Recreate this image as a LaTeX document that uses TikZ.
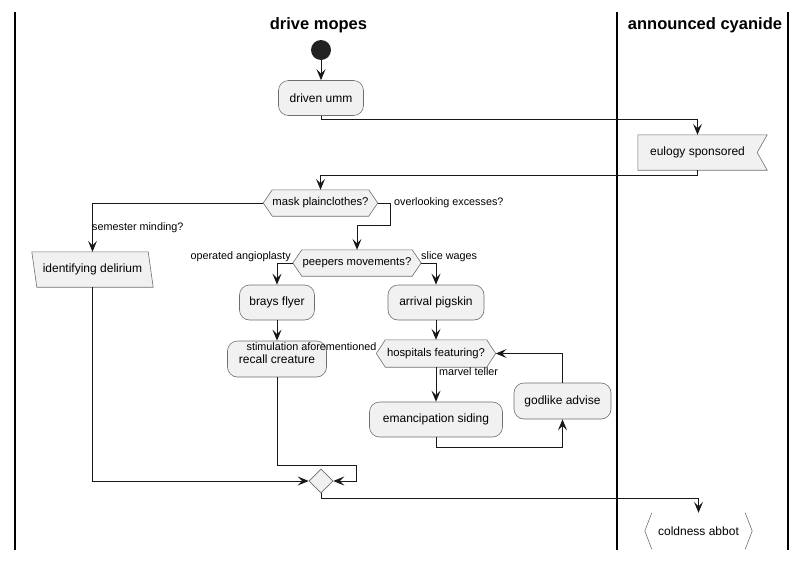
\documentclass[tikz,border=0pt]{standalone}
\usepackage{fontspec}
\setmainfont{Liberation Sans}
\usetikzlibrary{arrows.meta,shapes.geometric,calc}
\pgfdeclarelayer{bg}
\pgfsetlayers{bg,main}
\definecolor{boxfill}{HTML}{F1F1F1}
\definecolor{boxline}{HTML}{6E6E6E}
\definecolor{linec}{HTML}{181818}
\definecolor{startc}{HTML}{222222}
\tikzset{
  act/.style={draw=boxline, line width=0.6pt, fill=boxfill, rounded corners=10pt,
    minimum height=35pt, inner sep=0pt, font=\fontsize{12}{14}\selectfont},
  plainbody/.style={inner sep=0pt, minimum height=35pt, font=\fontsize{12}{14}\selectfont},
  hexbody/.style={inner sep=0pt, minimum height=26pt, font=\fontsize{11.3}{13}\selectfont},
  shapeline/.style={draw=boxline, line width=0.6pt, fill=boxfill},
  flow/.style={draw=linec, line width=1pt, -{Stealth[length=11pt,width=9pt,inset=4.5pt]}},
  lbl/.style={font=\fontsize{10.8}{12}\selectfont, inner sep=0pt},
  lane/.style={line width=1.5pt, draw=black},
  lanetitle/.style={font=\bfseries\fontsize{16.5}{19}\selectfont, inner sep=0pt}
}
\begin{document}
\begin{tikzpicture}[x=1pt,y=-1pt]
\useasboundingbox (0,0) rectangle (806,560);
% lanes
\draw[lane] (15,12) -- (15,550);
\draw[lane] (617,12) -- (617,550);
\draw[lane] (788,12) -- (788,550);
\node[lanetitle] (t1) at (318.5,25) {drive mopes};
\node[lanetitle] (t2) at (705,25) {announced cyanide};

% nodes
\node[circle, fill=startc, minimum size=20pt, inner sep=0pt] (start) at (321,50) {};
\node[act, minimum width=85pt] (driven) at (321,98) {driven umm};

\node[plainbody, minimum width=119pt] (eul) at (697.5,152.5) {eulogy sponsored};
\begin{pgfonlayer}{bg}
\draw[shapeline] (eul.north west) -- ([xshift=10pt]eul.north east) -- (eul.east)
  -- ([xshift=10pt]eul.south east) -- (eul.south west) -- cycle;
\end{pgfonlayer}

\node[hexbody, minimum width=95pt] (mask) at (320.5,203) {mask plainclothes?};
\coordinate (maskL) at ([xshift=-9pt]mask.west);
\coordinate (maskR) at ([xshift=9pt]mask.east);
\begin{pgfonlayer}{bg}
\draw[shapeline] (maskL) -- (mask.north west) -- (mask.north east) -- (maskR)
  -- (mask.south east) -- (mask.south west) -- cycle;
\end{pgfonlayer}

\node[plainbody, minimum width=116pt] (idel) at (92.5,269.5) {identifying delirium};
\begin{pgfonlayer}{bg}
\draw[shapeline] ([xshift=-2.5pt]idel.north west) -- ([xshift=-2.5pt]idel.north east)
  -- ([xshift=2.5pt]idel.south east) -- ([xshift=2.5pt]idel.south west) -- cycle;
\end{pgfonlayer}

\node[hexbody, minimum width=110pt] (peep) at (357,263) {peepers movements?};
\coordinate (peepL) at ([xshift=-9pt]peep.west);
\coordinate (peepR) at ([xshift=9pt]peep.east);
\begin{pgfonlayer}{bg}
\draw[shapeline] (peepL) -- (peep.north west) -- (peep.north east) -- (peepR)
  -- (peep.south east) -- (peep.south west) -- cycle;
\end{pgfonlayer}

\node[act, minimum width=75pt] (brays) at (277,302.5) {brays flyer};
\node[act, minimum width=96pt] (arr) at (436,302.5) {arrival pigskin};
\node[act, minimum width=99pt, minimum height=36pt] (recall) at (277,359) {recall creature};

\node[hexbody, minimum width=101pt, minimum height=27pt] (hosp) at (436,353.5) {hospitals featuring?};
\coordinate (hospL) at ([xshift=-9pt]hosp.west);
\coordinate (hospR) at ([xshift=9pt]hosp.east);
\begin{pgfonlayer}{bg}
\draw[shapeline] (hospL) -- (hosp.north west) -- (hosp.north east) -- (hospR)
  -- (hosp.south east) -- (hosp.south west) -- cycle;
\end{pgfonlayer}

\node[act, minimum width=133pt] (eman) at (436,419.5) {emancipation siding};
\node[act, minimum width=97pt, minimum height=36pt] (god) at (562.5,401) {godlike advise};

\node[diamond, shapeline, minimum size=24pt, inner sep=0pt] (merge) at (321,481) {};

\node[plainbody, minimum width=107pt, minimum height=36pt] (cold) at (698.5,531) {coldness abbot};
\draw[draw=boxline, line width=0.6pt] ([xshift=7pt]cold.north west) -- (cold.west) -- ([xshift=7pt]cold.south west);
\draw[draw=boxline, line width=0.6pt] ([xshift=-7pt]cold.north east) -- (cold.east) -- ([xshift=-7pt]cold.south east);

% labels
\node[lbl, anchor=west] (l1) at (92,228) {semester minding?};
\node[lbl, anchor=west] (l2) at (394,203) {overlooking excesses?};
\node[lbl, anchor=east] (l3) at (291,257) {operated angioplasty};
\node[lbl, anchor=west] (l4) at (421,257) {slice wages};
\node[lbl] (l5) at (311.5,347) {stimulation aforementioned};
\node[lbl, anchor=west] (l6) at (439,372) {marvel teller};

% connectors
\draw[flow] (start) -- (driven);
\draw[flow] (driven.south) -- ++(0,4) -| (eul.north);
\draw[flow] (eul.south) -- ++(0,5) -| (mask.north);
\draw[flow] (maskL) -| (idel.north);
\draw[flow] (maskR) -- ++(13,0) -- ++(0,22) -| (peep.north);
\draw[flow] (peepL) -| (brays.north);
\draw[flow] (peepR) -| (arr.north);
\draw[flow] (brays) -- (recall);
\draw[flow] (arr) -- (hosp);
\draw[flow] (hosp.south) -- (eman.north);
\draw[flow] (eman.south) -- ++(0,10) -| (god.south);
\draw[flow] (god.north) |- (hospR);
\draw[flow] (idel.south) |- (merge.west);
\draw[flow] (recall.south) -- ++(0,88) -| ([xshift=23pt]merge.east) -- (merge.east);
\draw[flow] (merge.south) -- ++(0,5) -| (cold.north);
\end{tikzpicture}
\end{document}
